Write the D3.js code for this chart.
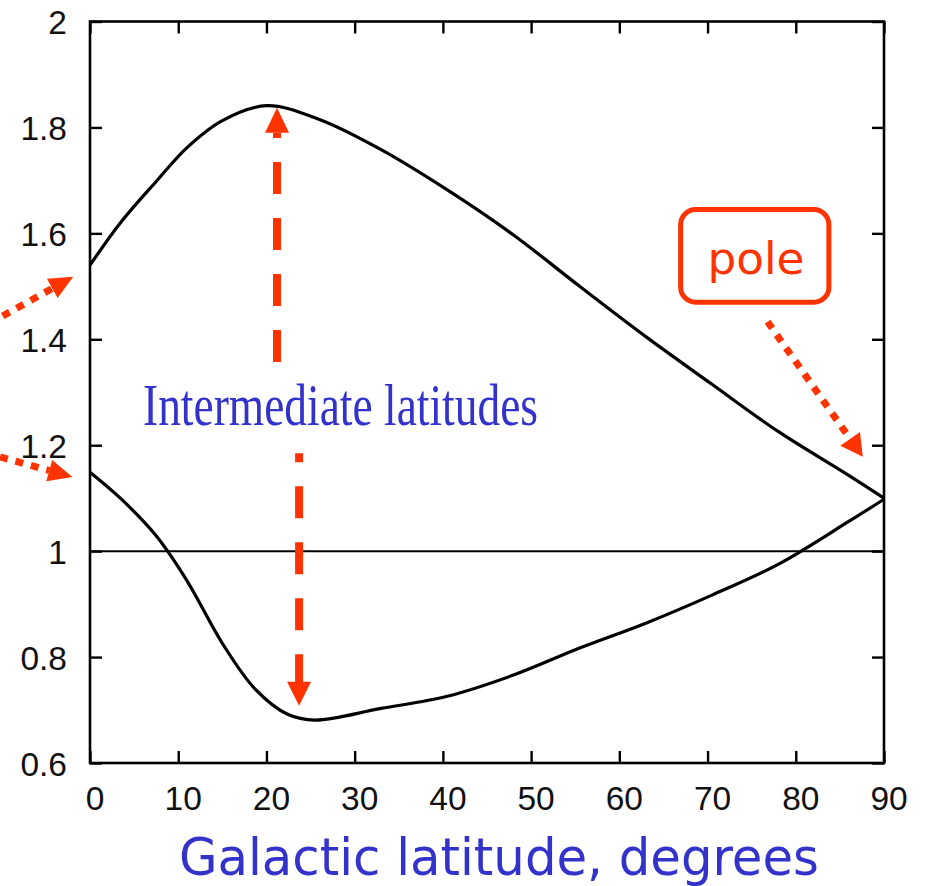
<!DOCTYPE html>
<html>
<head>
<meta charset="utf-8">
<script src="https://cdn.jsdelivr.net/npm/d3@7"></script>
<style>
  html, body { margin: 0; padding: 0; background: #fff; }
  svg { display: block; }
</style>
</head>
<body>
<svg id="chart" width="925" height="886"></svg>
<script>
// Galactic latitude (degrees) and the two ratio curves
const upperLat = [0, 3.5, 7.5, 11, 15, 20, 26, 33, 40.5, 48, 55.5, 63, 70.5, 78, 86, 90];
const upperVal = [1.540, 1.621, 1.698, 1.762, 1.813, 1.841, 1.815, 1.758, 1.682, 1.597, 1.500, 1.405, 1.315, 1.226, 1.143, 1.100];

const lowerLat = [0, 3.5, 7.5, 11, 15, 18.7, 22.4, 25.5, 33, 40.5, 48, 55.5, 63, 70.5, 78, 86, 90];
const lowerVal = [1.149, 1.099, 1.029, 0.944, 0.826, 0.740, 0.692, 0.681, 0.703, 0.726, 0.766, 0.817, 0.864, 0.917, 0.975, 1.056, 1.098];

const refLat = [0, 90];
const refVal = [1, 1];

const xTicks = [0, 10, 20, 30, 40, 50, 60, 70, 80, 90];
const yTicks = [0.6, 0.8, 1, 1.2, 1.4, 1.6, 1.8, 2];

const RED = "#ff3300";
const BLUE = "#3333cc";

const svg = d3.select("#chart");
const x = d3.scaleLinear().domain([0, 90]).range([90, 884]);
const y = d3.scaleLinear().domain([0.6, 2]).range([763, 21.5]);

const tickFont = "'Liberation Sans', Arial, sans-serif";

// frame
svg.append("rect")
  .attr("x", x(0)).attr("y", y(2))
  .attr("width", x(90) - x(0)).attr("height", y(0.6) - y(2))
  .attr("fill", "none").attr("stroke", "#000").attr("stroke-width", 2.6);

// inward ticks on all four sides
const tickLen = 12;
const axisStyle = g => {
  g.select(".domain").remove();
  g.selectAll(".tick line").attr("stroke", "#000").attr("stroke-width", 2.4);
  g.selectAll(".tick text").attr("font-family", tickFont).attr("font-size", 33.5).attr("fill", "#111");
};

svg.append("g").attr("transform", `translate(0,${y(0.6)})`)
  .call(d3.axisBottom(x).tickValues(xTicks).tickSize(-tickLen).tickPadding(0).tickFormat(d3.format("d")))
  .call(axisStyle)
  .call(g => g.selectAll(".tick text").attr("dy", null).attr("y", 47).attr("dx", 4.5));

svg.append("g").attr("transform", `translate(0,${y(2)})`)
  .call(d3.axisTop(x).tickValues(xTicks).tickSize(-tickLen).tickFormat(""))
  .call(axisStyle);

svg.append("g").attr("transform", `translate(${x(0)},0)`)
  .call(d3.axisLeft(y).tickValues(yTicks).tickSize(-tickLen).tickPadding(23).tickFormat(d => d3.format("")(+d.toFixed(1))))
  .call(axisStyle)
  .call(g => g.selectAll(".tick text").attr("dy", "0.36em"));

svg.append("g").attr("transform", `translate(${x(90)},0)`)
  .call(d3.axisRight(y).tickValues(yTicks).tickSize(-tickLen).tickFormat(""))
  .call(axisStyle);

// curves
const line = d3.line().x(d => x(d[0])).y(d => y(d[1])).curve(d3.curveCatmullRom.alpha(0.5));

svg.append("path")
  .datum(d3.zip(refLat, refVal))
  .attr("d", d3.line().x(d => x(d[0])).y(d => y(d[1])))
  .attr("fill", "none").attr("stroke", "#000").attr("stroke-width", 2);

svg.append("path")
  .datum(d3.zip(upperLat, upperVal))
  .attr("d", line)
  .attr("fill", "none").attr("stroke", "#000").attr("stroke-width", 3.2);

svg.append("path")
  .datum(d3.zip(lowerLat, lowerVal))
  .attr("d", line)
  .attr("fill", "none").attr("stroke", "#000").attr("stroke-width", 3.2);

// annotation arrows: shaft from `from` to the head base, filled triangular head at `tip`
function arrow(from, tip, opts) {
  const [x1, y1] = [x(from[0]), y(from[1])];
  const [x2, y2] = [x(tip[0]), y(tip[1])];
  const dx = x2 - x1, dy = y2 - y1, len = Math.hypot(dx, dy);
  const ux = dx / len, uy = dy / len;
  const bx = x2 - ux * opts.head, by = y2 - uy * opts.head;
  svg.append("line")
    .attr("x1", x1).attr("y1", y1)
    .attr("x2", bx).attr("y2", by)
    .attr("stroke", RED).attr("stroke-width", opts.width)
    .attr("stroke-dasharray", opts.dash);
  if (opts.head > 0) {
    const hw = opts.headWidth / 2;
    svg.append("path")
      .attr("d", `M${x2},${y2}L${bx - uy * hw},${by + ux * hw}L${bx + uy * hw},${by - ux * hw}Z`)
      .attr("fill", RED);
  }
}

// long dashed arrows marking the spread at intermediate latitudes
arrow([21.2, 1.357], [21.2, 1.837], { head: 25, headWidth: 24, width: 8, dash: "32,24" });
arrow([23.7, 0.745], [23.7, 1.185], { head: 0, headWidth: 0, width: 8, dash: "32,24" });
arrow([23.7, 0.753], [23.7, 0.708], { head: 24, headWidth: 24, width: 8, dash: null });

// dotted arrows
arrow([76.8, 1.433], [87.6, 1.178], { head: 22, headWidth: 24, width: 7, dash: "8,8" });
arrow([-9.9, 1.444], [-1.9, 1.518], { head: 24, headWidth: 22, width: 7, dash: "8,8" });
arrow([-10.2, 1.178], [-2.0, 1.140], { head: 24, headWidth: 22, width: 7, dash: "8,8" });

// "pole" callout box
svg.append("rect")
  .attr("x", x(66.95)).attr("y", y(1.645))
  .attr("width", x(83.75) - x(66.95)).attr("height", y(1.470) - y(1.645))
  .attr("rx", 15).attr("ry", 15)
  .attr("fill", "#fff").attr("stroke", RED).attr("stroke-width", 5);

svg.append("text")
  .attr("x", 756).attr("y", 274)
  .attr("text-anchor", "middle")
  .attr("font-family", "'Comic Sans MS', 'DejaVu Sans', sans-serif")
  .attr("font-size", 44)
  .attr("textLength", 97).attr("lengthAdjust", "spacingAndGlyphs")
  .attr("fill", RED)
  .text("pole");

// region label
svg.append("text")
  .attr("x", 143).attr("y", 425)
  .attr("font-family", "'Liberation Serif', 'Times New Roman', serif")
  .attr("font-size", 60)
  .attr("textLength", 395).attr("lengthAdjust", "spacingAndGlyphs")
  .attr("fill", BLUE)
  .text("Intermediate latitudes");

// x-axis title
svg.append("text")
  .attr("x", 179).attr("y", 875)
  .attr("font-family", "'Comic Sans MS', 'DejaVu Sans', sans-serif")
  .attr("font-size", 52)
  .attr("textLength", 640).attr("lengthAdjust", "spacingAndGlyphs")
  .attr("fill", BLUE)
  .text("Galactic latitude, degrees");
</script>
</body>
</html>
